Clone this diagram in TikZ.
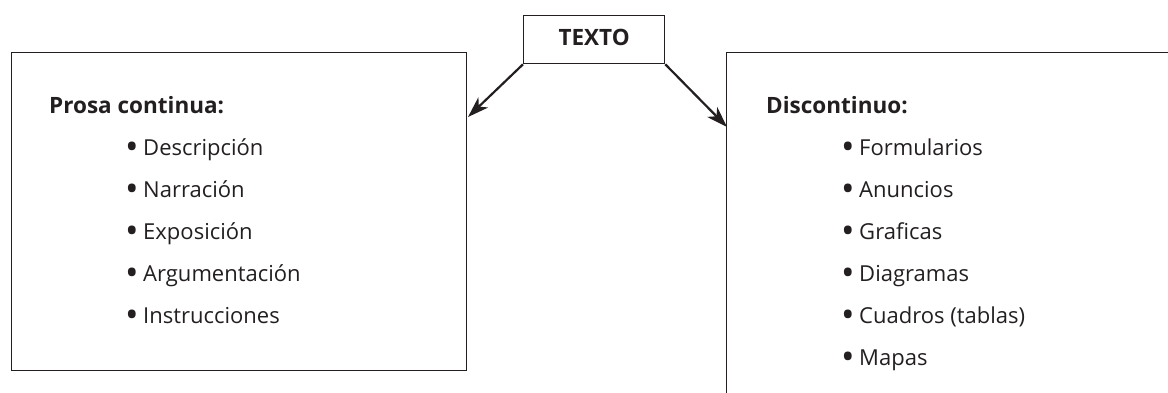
\documentclass[tikz,border=0pt]{standalone}
\usepackage{fontspec}
\setmainfont{Open Sans}
\usetikzlibrary{arrows.meta}
\definecolor{ink}{HTML}{231F20}
\newcommand{\bul}{{\fontsize{36}{25}\selectfont\raisebox{-4.5pt}{•}}\hspace{4.5pt}}
\begin{document}
\begin{tikzpicture}[x=1pt,y=-1pt,
  frame/.style={draw=ink,line width=1.3pt,rectangle,inner sep=0pt,anchor=north west},
  head/.style={anchor=base west,inner sep=0pt,text=ink,font=\fontsize{22.5}{25}\selectfont\bfseries},
  item/.style={anchor=base west,inner sep=0pt,text=ink,font=\fontsize{22}{25}\selectfont},
  conn/.style={draw=ink,line width=2.2pt,-{Stealth[length=21pt,width=14pt,inset=6pt]}}]
\useasboundingbox (0,0) rectangle (1168,392);
\clip (0,0) rectangle (1168,392);
% boxes
\node[frame,minimum width=455pt,minimum height=318pt] (left) at (11,52) {};
\node[frame,minimum width=480pt,minimum height=380pt] (right) at (726,52) {};
\node[frame,minimum width=141pt,minimum height=48pt,fill=white] (texto) at (523,15) {};
\node[anchor=base,inner sep=0pt,text=ink,font=\fontsize{22.5}{25}\selectfont\bfseries] (ttl) at (texto.center |- 0,45) {TEXTO};
% connector ends
\coordinate (aL) at (468,117);
\coordinate (aR) at (727,127);
\draw[conn] (texto.south west) -- (aL);
\draw[conn] (texto.south east) -- (aR);
% left contents
\node[head] (h1) at (49,113) {Prosa continua:};
\node[item] (l1) at (125,155) {\bul Descripción};
\node[item] (l2) at (125,197) {\bul Narración};
\node[item] (l3) at (125,239) {\bul Exposición};
\node[item] (l4) at (125,281) {\bul Argumentación};
\node[item] (l5) at (125,323) {\bul Instrucciones};
% right contents
\node[head] (h2) at (766,113) {Discontinuo:};
\node[item] (r1) at (841,155) {\bul Formularios};
\node[item] (r2) at (841,197) {\bul Anuncios};
\node[item] (r3) at (841,239) {\bul Graficas};
\node[item] (r4) at (841,281) {\bul Diagramas};
\node[item] (r5) at (841,323) {\bul Cuadros (tablas)};
\node[item] (r6) at (841,365) {\bul Mapas};
\end{tikzpicture}
\end{document}
